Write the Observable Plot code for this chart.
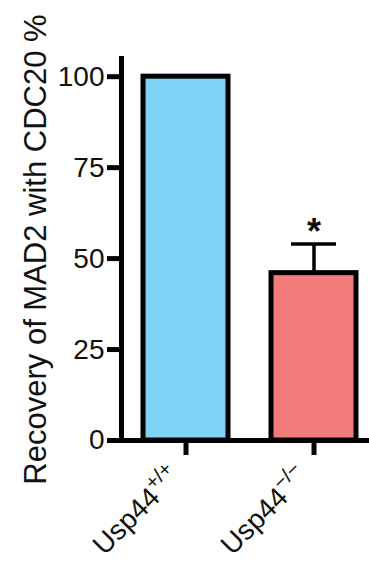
<!DOCTYPE html>
<html><head><meta charset="utf-8">
<script src="https://cdn.jsdelivr.net/npm/d3@7"></script>
<script src="https://cdn.jsdelivr.net/npm/@observablehq/plot@0.6"></script>
<style>
html,body{margin:0;padding:0;background:#fff;}
</style></head><body><div id="chart"></div>
<script>
const groups = ["Usp44+/+", "Usp44−/−"];
const labelBase = ["Usp44", "Usp44"];
const labelSup = ["+/+", "−/−"];
const values = [100, 46];
const sem = [0, 8];
const significance = ["", "*"];
const colors = ["#7dd3f6", "#f17c7a"];
const yTicks = [0, 25, 50, 75, 100];
const yLabel = "Recovery of MAD2 with CDC20 %";

const data = groups.map((g, i) => ({group: g, value: values[i], sem: sem[i], star: significance[i]}));
const errData = data.filter(d => d.sem > 0);

const chart = Plot.plot({
  width: 369, height: 570,
  marginLeft: 121, marginRight: 0, marginTop: 58, marginBottom: 130,
  style: {fontFamily: "'Liberation Sans', Arial, sans-serif", color: "#111", background: "#fff", overflow: "visible"},
  x: {domain: groups, paddingInner: 0.3385, paddingOuter: 0.134, align: 0.623, axis: null},
  y: {domain: [0, 105], axis: null},
  color: {domain: groups, range: colors},
  marks: [
    Plot.ruleX(errData, {x: "group", y1: "value", y2: d => d.value + d.sem, stroke: "#000", strokeWidth: 3.5}),
    Plot.tickY(errData, {x: "group", y: d => d.value + d.sem, stroke: "#000", strokeWidth: 3.5, insetLeft: 20, insetRight: 20}),
    Plot.text(errData, {x: "group", y: d => d.value + d.sem, text: "star", fontSize: 36, fontWeight: "bold", lineAnchor: "bottom", dy: 0, fill: "#111"}),
    Plot.barY(data, {x: "group", y: "value", fill: "group", stroke: "#000", strokeWidth: 5}),
    Plot.ruleY([0], {stroke: "#000", strokeWidth: 5}),
    Plot.frame({anchor: "left", stroke: "#000", strokeWidth: 5}),
    Plot.axisY({ticks: yTicks, tickSize: 14, tickPadding: 3, fontSize: 28, stroke: "#000", strokeWidth: 5, label: null, tickFormat: d => String(d)}),
    Plot.axisX({tickSize: 15, stroke: "#000", strokeWidth: 5, label: null, tickFormat: () => ""}),
    Plot.text(groups, {x: d => d, frameAnchor: "bottom", text: d => d, rotate: -45, textAnchor: "end", lineAnchor: "bottom", fontSize: 28, dx: -4, dy: 38, fill: "#111"}),
    Plot.text([yLabel], {frameAnchor: "left", text: d => d, rotate: -90, fontSize: 31, dx: -85, textAnchor: "middle", lineAnchor: "middle", fill: "#111"})
  ]
});
document.getElementById("chart").appendChild(chart);

// superscript formatting of the genotype labels
chart.querySelectorAll("text").forEach(el => {
  const i = groups.indexOf(el.textContent);
  if (i < 0) return;
  el.textContent = "";
  const ns = "http://www.w3.org/2000/svg";
  const base = document.createElementNS(ns, "tspan");
  base.textContent = labelBase[i];
  const sup = document.createElementNS(ns, "tspan");
  sup.setAttribute("font-size", "20");
  sup.setAttribute("dy", "-12");
  sup.textContent = labelSup[i];
  el.appendChild(base);
  el.appendChild(sup);
});
</script>
</body></html>
